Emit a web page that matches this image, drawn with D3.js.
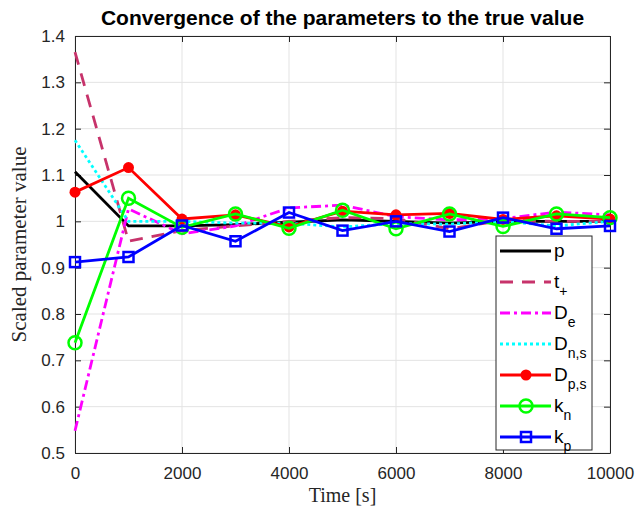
<!DOCTYPE html>
<html>
<head>
<meta charset="utf-8">
<script src="https://cdnjs.cloudflare.com/ajax/libs/d3/7.8.5/d3.min.js"></script>
<style>
  body { margin: 0; background: #fff; }
  .tick text { font-family: "Liberation Sans", Arial, sans-serif; font-size: 17px; fill: #262626; }
</style>
</head>
<body>
<div class="chart"></div>
<script>
var svgWidth = 639;
var svgHeight = 514;

var margin = { top: 36, right: 29, bottom: 61, left: 75 };

var width = svgWidth - margin.left - margin.right;
var height = svgHeight - margin.top - margin.bottom;

// data
var time = [0, 1000, 2000, 3000, 4000, 5000, 6000, 7000, 8000, 9000, 10000];
var pVals   = [1.107, 0.990, 0.990, 0.993, 0.998, 1.003, 1.000, 0.996, 1.000, 1.000, 1.000];
var tVals   = [1.365, 0.957, 0.980, 0.990, 1.000, 1.008, 1.006, 0.984, 1.002, 1.000, 1.000];
var deVals  = [0.548, 1.027, 0.973, 0.990, 1.029, 1.035, 1.010, 1.003, 1.006, 1.020, 1.014];
var dnVals  = [1.175, 1.000, 1.000, 0.996, 0.996, 0.988, 0.995, 0.994, 1.000, 0.990, 1.000];
var dpVals  = [1.063, 1.116, 1.005, 1.014, 0.988, 1.022, 1.014, 1.017, 1.004, 1.012, 1.005];
var knVals  = [0.738, 1.050, 0.987, 1.016, 0.985, 1.024, 0.984, 1.016, 0.989, 1.016, 1.008];
var kpVals  = [0.912, 0.923, 0.991, 0.957, 1.019, 0.980, 1.000, 0.978, 1.008, 0.984, 0.990];

var xTicks = [0, 2000, 4000, 6000, 8000, 10000];
var yTicks = [0.5, 0.6, 0.7, 0.8, 0.9, 1, 1.1, 1.2, 1.3, 1.4];

var series = [
  { name: "p",    sub: "",    values: pVals,  color: "#000000", dash: null,        marker: null },
  { name: "t",    sub: "+",   values: tVals,  color: "#c7336b", dash: "13,9",      marker: null },
  { name: "D",    sub: "e",   values: deVals, color: "#ff00ff", dash: "10,4,3,4",  marker: null },
  { name: "D",    sub: "n,s", values: dnVals, color: "#00ffff", dash: "3,3",       marker: null },
  { name: "D",    sub: "p,s", values: dpVals, color: "#ff0000", dash: null,        marker: "dot" },
  { name: "k",    sub: "n",   values: knVals, color: "#00ff00", dash: null,        marker: "circle" },
  { name: "k",    sub: "p",   values: kpVals, color: "#0000ff", dash: null,        marker: "square" }
];

var svg = d3.select(".chart")
  .append("svg")
  .attr("width", svgWidth)
  .attr("height", svgHeight);

var chartGroup = svg.append("g")
  .attr("transform", `translate(${margin.left}, ${margin.top})`);

var xScale = d3.scaleLinear().domain([0, 10000]).range([0, width]);
var yScale = d3.scaleLinear().domain([0.5, 1.4]).range([height, 0]);

// grid
chartGroup.append("g")
  .selectAll("line.gx")
  .data(xTicks)
  .enter()
  .append("line")
  .attr("x1", d => xScale(d)).attr("x2", d => xScale(d))
  .attr("y1", 0).attr("y2", height)
  .attr("stroke", "#e3e3e3").attr("stroke-width", 1);

chartGroup.append("g")
  .selectAll("line.gy")
  .data(yTicks)
  .enter()
  .append("line")
  .attr("x1", 0).attr("x2", width)
  .attr("y1", d => yScale(d)).attr("y2", d => yScale(d))
  .attr("stroke", "#e3e3e3").attr("stroke-width", 1);

// axes (ticks point inward, box on all sides)
var bottomAxis = d3.axisBottom(xScale).tickValues(xTicks).tickSizeInner(-6).tickSizeOuter(0).tickPadding(14).tickFormat(d3.format("d"));
var leftAxis = d3.axisLeft(yScale).tickValues(yTicks).tickSizeInner(-6).tickSizeOuter(0).tickPadding(10).tickFormat(d => d === 1 ? "1" : d3.format(".1f")(d));
var topAxis = d3.axisTop(xScale).tickValues(xTicks).tickSizeInner(-6).tickSizeOuter(0).tickFormat("");
var rightAxis = d3.axisRight(yScale).tickValues(yTicks).tickSizeInner(-6).tickSizeOuter(0).tickFormat("");

[
  chartGroup.append("g").attr("transform", `translate(0, ${height})`).call(bottomAxis),
  chartGroup.append("g").call(leftAxis),
  chartGroup.append("g").call(topAxis),
  chartGroup.append("g").attr("transform", `translate(${width}, 0)`).call(rightAxis)
].forEach(function(g) {
  g.selectAll("path, line").attr("stroke", "#262626").attr("stroke-width", 1);
});

// lines
var line = d3.line()
  .x((d, i) => xScale(time[i]))
  .y(d => yScale(d));

function drawMarkers(g, s, pts) {
  if (s.marker === "dot") {
    g.selectAll("circle").data(pts).enter().append("circle")
      .attr("cx", d => d[0]).attr("cy", d => d[1]).attr("r", 5.5)
      .attr("fill", s.color);
  } else if (s.marker === "circle") {
    g.selectAll("circle").data(pts).enter().append("circle")
      .attr("cx", d => d[0]).attr("cy", d => d[1]).attr("r", 6.5)
      .attr("fill", "none").attr("stroke", s.color).attr("stroke-width", 2.5);
  } else if (s.marker === "square") {
    g.selectAll("rect").data(pts).enter().append("rect")
      .attr("x", d => d[0] - 5).attr("y", d => d[1] - 5)
      .attr("width", 10).attr("height", 10)
      .attr("fill", "none").attr("stroke", s.color).attr("stroke-width", 2.5);
  }
}

series.forEach(function(s) {
  var g = chartGroup.append("g");
  g.append("path")
    .attr("d", line(s.values))
    .attr("fill", "none")
    .attr("stroke", s.color)
    .attr("stroke-width", 2.8)
    .attr("stroke-dasharray", s.dash);
  var pts = s.values.map((v, i) => [xScale(time[i]), yScale(v)]);
  drawMarkers(g, s, pts);
});

// legend
var legend = svg.append("g").attr("transform", "translate(496, 236)");
legend.append("rect")
  .attr("width", 96).attr("height", 214)
  .attr("fill", "#fff").attr("stroke", "#262626").attr("stroke-width", 1);

series.forEach(function(s, i) {
  var y = 15 + i * 31;
  var row = legend.append("g").attr("transform", `translate(0, ${y})`);
  row.append("line")
    .attr("x1", 4).attr("x2", 55).attr("y1", 0).attr("y2", 0)
    .attr("stroke", s.color).attr("stroke-width", 2.8)
    .attr("stroke-dasharray", s.dash);
  drawMarkers(row, s, [[30, 0]]);
  var t = row.append("text")
    .attr("x", 58).attr("y", 6)
    .attr("font-family", "Liberation Sans, Arial, sans-serif")
    .attr("font-size", 19)
    .attr("fill", "#000")
    .text(s.name);
  if (s.sub) {
    t.append("tspan")
      .attr("dy", 8)
      .attr("font-size", 14)
      .text(s.sub);
  }
});

// title and axis labels
svg.append("text")
  .attr("x", margin.left + width / 2)
  .attr("y", 25)
  .attr("text-anchor", "middle")
  .attr("font-family", "Liberation Sans, Arial, sans-serif")
  .attr("font-weight", "bold")
  .attr("font-size", 21)
  .attr("fill", "#000")
  .text("Convergence of the parameters to the true value");

svg.append("text")
  .attr("transform", `translate(${margin.left + width / 2}, ${svgHeight - 12})`)
  .attr("text-anchor", "middle")
  .attr("font-family", "Liberation Serif, DejaVu Serif, serif")
  .attr("font-size", 20)
  .attr("fill", "#262626")
  .text("Time [s]");

svg.append("text")
  .attr("transform", `translate(26, ${margin.top + height / 2}) rotate(-90)`)
  .attr("text-anchor", "middle")
  .attr("font-family", "Liberation Serif, DejaVu Serif, serif")
  .attr("font-size", 21)
  .attr("fill", "#262626")
  .text("Scaled parameter value");
</script>
</body>
</html>
